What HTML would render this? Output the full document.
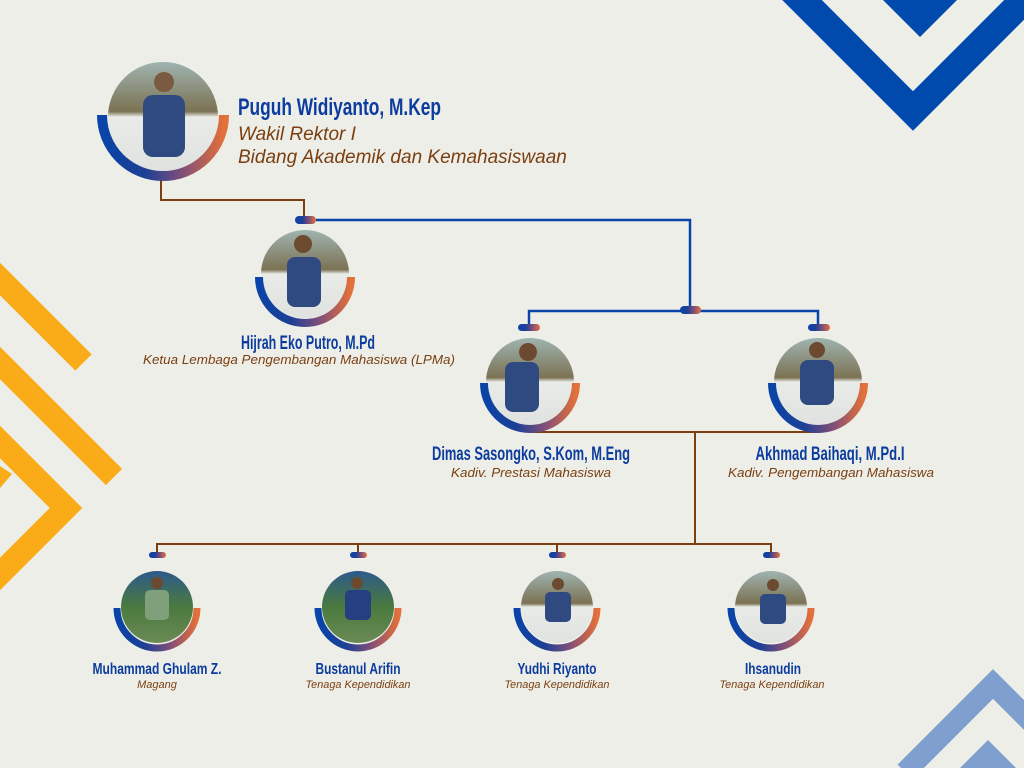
<!DOCTYPE html>
<html><head><meta charset="utf-8"><style>
html,body{margin:0;padding:0;background:#eeeee9;}
svg{display:block}
.n{font-family:"Liberation Sans Narrow","Liberation Sans",sans-serif;font-weight:bold;fill:#0b3c9e;}
.s{font-family:"Liberation Sans",sans-serif;font-style:italic;fill:#7a3f10;}
</style></head><body>
<svg width="1024" height="768" viewBox="0 0 1024 768" xmlns="http://www.w3.org/2000/svg">
<defs>
<linearGradient id="g" x1="0" x2="1" y1="0" y2="0">
<stop offset="0" stop-color="#0a44a8"/><stop offset="0.35" stop-color="#1d3f95"/><stop offset="0.65" stop-color="#7d4e7a"/><stop offset="1" stop-color="#e4703a"/></linearGradient>
<linearGradient id="p" x1="0" x2="0" y1="0" y2="1">
<stop offset="0" stop-color="#9fb4b0"/><stop offset="0.45" stop-color="#7c7253"/><stop offset="0.5" stop-color="#e8ebe8"/><stop offset="1" stop-color="#dfe2df"/></linearGradient>
<linearGradient id="p2" x1="0" x2="0" y1="0" y2="1">
<stop offset="0" stop-color="#2d5a8a"/><stop offset="0.5" stop-color="#4a7a3e"/><stop offset="1" stop-color="#6b8a55"/></linearGradient>
</defs>
<rect width="1024" height="768" fill="#eeeee9"/>
<g fill="none" stroke="#f9ab18" stroke-width="23" stroke-linejoin="miter">
<line x1="-15" y1="264" x2="83.5" y2="362.5"/>
<line x1="-15" y1="348" x2="114" y2="477"/>
<polyline points="-30,412 66,508 -30,604"/>
</g>
<polygon points="0,466 12,474 0,488" fill="#f9ab18"/>
<g fill="none" stroke="#004aad" stroke-width="28">
<polyline points="760,-42 913,111 1060,-36"/>
</g>
<polygon points="883,0 957,0 920,37" fill="#004aad"/>
<g fill="none" stroke="#7f9fcf" stroke-width="21">
<polyline points="905,772 993,684 1090,781"/>
</g>
<polygon points="988,740 1030,782 946,782" fill="#7f9fcf"/>
<g fill="none" stroke="#7a3f10" stroke-width="2">
<polyline points="161,178 161,200 304,200 304,216"/>
<polyline points="530,432 820,432"/>
<line x1="695" y1="432" x2="695" y2="544"/>
<polyline points="157,552 157,544 771,544 771,552"/>
<line x1="358" y1="544" x2="358" y2="552"/>
<line x1="557" y1="544" x2="557" y2="552"/>
</g>
<g fill="none" stroke="#0b44a8" stroke-width="2.5">
<polyline points="316,220 690,220 690,310"/>
<polyline points="529,324 529,311 818,311 818,324"/>
</g>
<g fill="url(#g)">
<rect x="295" y="216" width="21" height="8" rx="4"/>
<rect x="680" y="306" width="21" height="8" rx="4"/>
<rect x="518" y="324" width="22" height="7" rx="3.5"/>
<rect x="808" y="324" width="22" height="7" rx="3.5"/>
<rect x="149" y="552" width="17" height="6" rx="3"/>
<rect x="350" y="552" width="17" height="6" rx="3"/>
<rect x="549" y="552" width="17" height="6" rx="3"/>
<rect x="763" y="552" width="17" height="6" rx="3"/>
</g>
<g>
<circle cx="163" cy="117" r="55" fill="url(#p)"/>
<rect x="143" y="95" width="42" height="62" rx="10" fill="#2f4a80"/><circle cx="164" cy="82" r="10" fill="#7a5a40"/>
<circle cx="305" cy="274" r="44" fill="url(#p)"/>
<rect x="287" y="257" width="34" height="50" rx="8" fill="#2f4a80"/><circle cx="303" cy="244" r="9" fill="#6b4a30"/>
<circle cx="530" cy="382" r="44" fill="url(#p)"/>
<rect x="505" y="362" width="34" height="50" rx="8" fill="#2f4a80"/><circle cx="528" cy="352" r="9" fill="#6b4a30"/>
<circle cx="818" cy="382" r="44" fill="url(#p)"/>
<rect x="800" y="360" width="34" height="45" rx="8" fill="#2f4a80"/><circle cx="817" cy="350" r="8" fill="#6b4a30"/>
<circle cx="157" cy="607" r="36" fill="url(#p2)"/>
<rect x="145" y="590" width="24" height="30" rx="5" fill="#7fa07a"/><circle cx="157" cy="583" r="6" fill="#6b4a30"/>
<circle cx="358" cy="607" r="36" fill="url(#p2)"/>
<rect x="345" y="590" width="26" height="30" rx="5" fill="#253f80"/><circle cx="357" cy="583" r="6" fill="#6b4a30"/>
<circle cx="557" cy="607" r="36" fill="url(#p)"/>
<rect x="545" y="592" width="26" height="30" rx="5" fill="#2f4a80"/><circle cx="558" cy="584" r="6" fill="#6b4a30"/>
<circle cx="771" cy="607" r="36" fill="url(#p)"/>
<rect x="760" y="594" width="26" height="30" rx="5" fill="#2f4a80"/><circle cx="773" cy="585" r="6" fill="#6b4a30"/>
</g>
<g fill="none" stroke="url(#g)">
<path d="M102 115 A61 61 0 0 0 224 115" stroke-width="10"/>
<path d="M259 277 A46 46 0 0 0 351 277" stroke-width="8"/>
<path d="M484 383 A46 46 0 0 0 576 383" stroke-width="8"/>
<path d="M772 383 A46 46 0 0 0 864 383" stroke-width="8"/>
<path d="M117 608 A40 40 0 0 0 197 608" stroke-width="7"/>
<path d="M318 608 A40 40 0 0 0 398 608" stroke-width="7"/>
<path d="M517 608 A40 40 0 0 0 597 608" stroke-width="7"/>
<path d="M731 608 A40 40 0 0 0 811 608" stroke-width="7"/>
</g>
<text class="n" x="238" y="115" font-size="24" textLength="203" lengthAdjust="spacingAndGlyphs">Puguh Widiyanto, M.Kep</text>
<text class="s" x="238" y="140" font-size="19">Wakil Rektor I</text>
<text class="s" x="238" y="163" font-size="19">Bidang Akademik dan Kemahasiswaan</text>
<g text-anchor="middle">
<text class="n" x="308" y="349" font-size="19" textLength="134" lengthAdjust="spacingAndGlyphs">Hijrah Eko Putro, M.Pd</text>
<text class="s" x="299" y="364" font-size="13" textLength="312" lengthAdjust="spacingAndGlyphs">Ketua Lembaga Pengembangan Mahasiswa (LPMa)</text>
<text class="n" x="531" y="460" font-size="19" textLength="198" lengthAdjust="spacingAndGlyphs">Dimas Sasongko, S.Kom, M.Eng</text>
<text class="s" x="531" y="477" font-size="13" textLength="160" lengthAdjust="spacingAndGlyphs">Kadiv. Prestasi Mahasiswa</text>
<text class="n" x="830" y="460" font-size="19" textLength="149" lengthAdjust="spacingAndGlyphs">Akhmad Baihaqi, M.Pd.I</text>
<text class="s" x="831" y="477" font-size="13" textLength="206" lengthAdjust="spacingAndGlyphs">Kadiv. Pengembangan Mahasiswa</text>
<text class="n" x="157" y="674" font-size="16" textLength="129" lengthAdjust="spacingAndGlyphs">Muhammad Ghulam Z.</text>
<text class="s" x="157" y="688" font-size="11">Magang</text>
<text class="n" x="358" y="674" font-size="16" textLength="85" lengthAdjust="spacingAndGlyphs">Bustanul Arifin</text>
<text class="s" x="358" y="688" font-size="11" textLength="105" lengthAdjust="spacingAndGlyphs">Tenaga Kependidikan</text>
<text class="n" x="557" y="674" font-size="16" textLength="79" lengthAdjust="spacingAndGlyphs">Yudhi Riyanto</text>
<text class="s" x="557" y="688" font-size="11" textLength="105" lengthAdjust="spacingAndGlyphs">Tenaga Kependidikan</text>
<text class="n" x="773" y="674" font-size="16" textLength="56" lengthAdjust="spacingAndGlyphs">Ihsanudin</text>
<text class="s" x="772" y="688" font-size="11" textLength="105" lengthAdjust="spacingAndGlyphs">Tenaga Kependidikan</text>
</g>
</svg>
</body></html>
